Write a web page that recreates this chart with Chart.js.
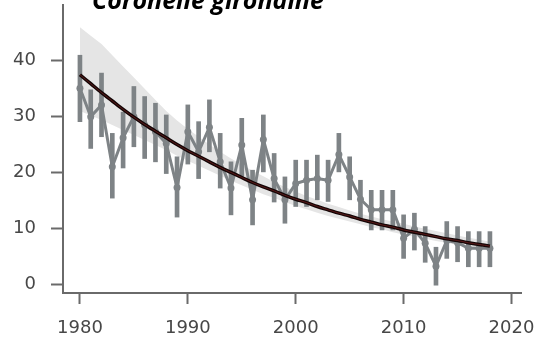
<!DOCTYPE html>
<html>
<head>
<meta charset="utf-8">
<script src="https://cdn.jsdelivr.net/npm/chart.js@4.4.1/dist/chart.umd.min.js"></script>
<style>
  html, body { margin: 0; padding: 0; background: #ffffff; }
  #wrap { width: 540px; height: 338px; }
</style>
</head>
<body>
<div id="wrap"><canvas id="chart" width="540" height="338"></canvas></div>
<script>
// Survey index per year, with its yearly interval
const TITLE = 'Coronelle girondine';
const YEARS = [1980, 1981, 1982, 1983, 1984, 1985, 1986, 1987, 1988, 1989,
               1990, 1991, 1992, 1993, 1994, 1995, 1996, 1997, 1998, 1999,
               2000, 2001, 2002, 2003, 2004, 2005, 2006, 2007, 2008, 2009,
               2010, 2011, 2012, 2013, 2014, 2015, 2016, 2017, 2018];
const INDEX = [35.1, 30.0, 32.1, 21.0, 26.2, 30.0, 28.5, 27.3, 25.2, 17.3,
               27.3, 23.7, 28.1, 21.9, 17.2, 24.9, 15.1, 25.9, 18.9, 15.1,
               18.0, 18.6, 18.9, 18.6, 23.2, 19.2, 15.2, 13.3, 13.3, 13.3,
               8.2, 9.8, 7.3, 3.2, 7.8, 7.4, 6.4, 6.4, 6.4];
const INDEX_LO = [29.1, 24.3, 26.4, 15.4, 20.8, 24.6, 22.5, 21.9, 19.8, 12.0,
                  21.5, 18.9, 23.7, 17.2, 12.4, 19.2, 10.6, 20.1, 14.7, 10.9,
                  13.9, 13.9, 15.1, 14.8, 20.1, 15.1, 11.8, 9.7, 9.7, 9.7,
                  4.6, 6.1, 3.9, -0.2, 4.6, 4.0, 3.1, 3.1, 3.1];
const INDEX_HI = [41.0, 34.8, 37.8, 27.0, 30.8, 35.4, 33.6, 32.4, 30.3, 22.8,
                  32.1, 29.1, 33.0, 27.0, 21.9, 29.7, 20.4, 30.3, 23.4, 19.2,
                  22.2, 22.2, 23.1, 22.2, 27.0, 22.8, 18.6, 16.8, 16.8, 16.8,
                  12.4, 12.7, 10.3, 6.6, 11.2, 10.3, 9.4, 9.4, 9.4];

// Fitted trend and its confidence band
const TREND = [37.5, 35.9, 34.3, 32.8, 31.3, 29.9, 28.6, 27.4, 26.2, 25.0,
               23.9, 22.9, 21.9, 20.9, 20.0, 19.1, 18.2, 17.4, 16.7, 15.9,
               15.2, 14.6, 13.9, 13.3, 12.7, 12.2, 11.6, 11.1, 10.6, 10.2,
               9.7, 9.3, 8.9, 8.5, 8.1, 7.8, 7.4, 7.1, 6.8];
const TREND_HI = [46.0, 44.5, 43.0, 41.0, 39.0, 37.0, 35.0, 33.0, 31.0, 29.3,
                  27.8, 26.4, 25.0, 23.7, 22.5, 21.4, 20.3, 19.3, 18.3, 17.4,
                  16.6, 15.8, 15.1, 14.4, 13.8, 13.2, 12.6, 12.1, 11.6, 11.2,
                  10.8, 10.3, 9.9, 9.5, 9.1, 8.7, 8.3, 8.0, 7.6];
const TREND_LO = [31.0, 30.2, 29.4, 28.5, 27.6, 26.7, 25.8, 24.9, 24.0, 23.0,
                  22.1, 21.2, 20.3, 19.4, 18.5, 17.7, 16.9, 16.1, 15.4, 14.7,
                  14.0, 13.4, 12.8, 12.2, 11.7, 11.2, 10.7, 10.2, 9.8, 9.3,
                  8.9, 8.5, 8.1, 7.7, 7.4, 7.0, 6.7, 6.4, 6.1];

const X_TICKS = [1980, 1990, 2000, 2010, 2020];
const Y_TICKS = [0, 10, 20, 30, 40];

const GREY = 'rgb(126,131,134)';
const AXIS = '#6a6a6a';
const LABEL = '#474747';

const pts = arr => YEARS.map((yr, i) => ({ x: yr, y: arr[i] }));

// keep the plot box fixed: no extra room reserved for edge labels
const noEdgePadding = s => {
  s.paddingLeft = 0; s.paddingRight = 0; s.paddingTop = 0; s.paddingBottom = 0;
};

const titlePlugin = {
  id: 'speciesTitle',
  afterDraw(chart) {
    const ctx = chart.ctx;
    ctx.save();
    ctx.font = 'italic bold 25px "Open Sans"';
    ctx.fillStyle = '#000000';
    ctx.textAlign = 'left';
    ctx.textBaseline = 'alphabetic';
    ctx.fillText(TITLE, 92, 9);
    ctx.restore();
  }
};

new Chart(document.getElementById('chart'), {
  type: 'bar',
  data: {
    datasets: [
      {
        type: 'line', label: 'band-hi', data: pts(TREND_HI),
        borderWidth: 0, pointRadius: 0, fill: '+1',
        backgroundColor: 'rgb(229,229,229)', borderColor: 'rgba(0,0,0,0)', order: 5
      },
      {
        type: 'line', label: 'band-lo', data: pts(TREND_LO),
        borderWidth: 0, pointRadius: 0, fill: false,
        borderColor: 'rgba(0,0,0,0)', order: 5
      },
      {
        type: 'bar', label: 'interval',
        data: YEARS.map((yr, i) => ({ x: yr, y: [INDEX_LO[i], INDEX_HI[i]] })),
        backgroundColor: GREY, borderWidth: 0, barThickness: 4, order: 3
      },
      {
        type: 'line', label: 'index', data: pts(INDEX),
        borderColor: GREY, borderWidth: 3, backgroundColor: GREY,
        pointRadius: 3.5, pointBorderWidth: 0, pointBackgroundColor: GREY,
        tension: 0, fill: false, order: 2
      },
      {
        type: 'line', label: 'trend', data: pts(TREND),
        borderColor: '#140606', borderWidth: 3.5, pointRadius: 0,
        tension: 0.3, fill: false, order: 1
      },
      {
        type: 'line', label: 'trend-core', data: pts(TREND),
        borderColor: 'rgba(150,40,40,0.55)', borderWidth: 1, pointRadius: 0,
        tension: 0.3, fill: false, order: 0
      }
    ]
  },
  options: {
    responsive: false,
    animation: false,
    events: [],
    layout: { padding: { top: 5, right: 19, left: 0, bottom: 0 } },
    plugins: { legend: { display: false }, tooltip: { enabled: false }, title: { display: false } },
    scales: {
      x: {
        type: 'linear', min: 1978.43, max: 2020.88, offset: false,
        afterBuildTicks: s => { s.ticks = X_TICKS.map(v => ({ value: v })); },
        afterFit: s => { s.height = 45; noEdgePadding(s); },
        grid: { display: true, offset: false, drawOnChartArea: false, drawTicks: true, tickLength: 11, tickWidth: 2, tickColor: AXIS },
        border: { display: true, color: AXIS, width: 2 },
        ticks: {
          font: { family: 'DejaVu Sans', size: 18 }, color: LABEL, padding: 14,
          maxRotation: 0, autoSkip: false, callback: v => String(v)
        }
      },
      y: {
        type: 'linear', min: -1.6, max: 50,
        afterBuildTicks: s => { s.ticks = Y_TICKS.map(v => ({ value: v })); },
        afterFit: s => { s.width = 63; noEdgePadding(s); },
        grid: { display: true, drawOnChartArea: false, drawTicks: true, tickLength: 12, tickWidth: 2, tickColor: AXIS },
        border: { display: true, color: AXIS, width: 2 },
        ticks: {
          font: { family: 'DejaVu Sans', size: 18 }, color: LABEL, padding: 15,
          callback: v => String(v)
        }
      }
    }
  },
  plugins: [titlePlugin]
});
</script>
</body>
</html>
